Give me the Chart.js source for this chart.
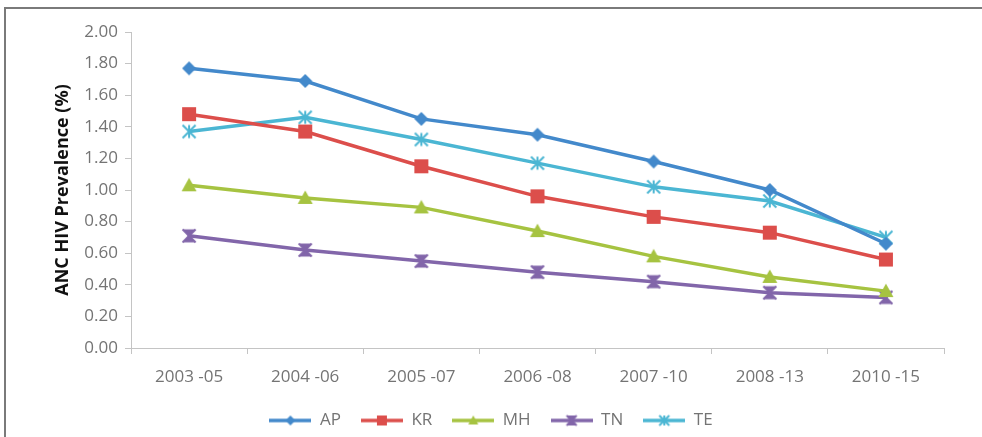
<!DOCTYPE html>
<html>
<head>
<meta charset="utf-8">
<script src="https://cdn.jsdelivr.net/npm/chart.js@4.4.0/dist/chart.umd.min.js"></script>
<style>
    html, body { margin: 0; padding: 0; background: #fff; }
    #wrap { position: relative; width: 982px; height: 437px; overflow: hidden; }
    #frame { position: absolute; left: 4px; top: 7px; width: 1200px; height: 600px;
             border-left: 2px solid #7a7a7a; border-top: 2px solid #7a7a7a; }
    #chart { position: absolute; left: 0; top: 0; }
</style>
</head>
<body>
<div id="wrap">
    <div id="frame"></div>
    <canvas id="chart" width="982" height="437"></canvas>
</div>
<script>
// --- data ---
const categories = ['2003 -05', '2004 -06', '2005 -07', '2006 -08', '2007 -10', '2008 -13', '2010 -15'];
const apValues = [1.77, 1.69, 1.45, 1.35, 1.18, 1.00, 0.66];
const krValues = [1.48, 1.37, 1.15, 0.96, 0.83, 0.73, 0.56];
const mhValues = [1.03, 0.95, 0.89, 0.74, 0.58, 0.45, 0.36];
const tnValues = [0.71, 0.62, 0.55, 0.48, 0.42, 0.35, 0.32];
const teValues = [1.37, 1.46, 1.32, 1.17, 1.02, 0.93, 0.70];
const seriesNames = ['AP', 'KR', 'MH', 'TN', 'TE'];
const yMin = 0, yMax = 2, yStep = 0.2;
const yTitle = 'ANC HIV Prevalence (%)';

const seriesColors = ['#4389cb', '#dc4e4b', '#a6c341', '#8266aa', '#4bb6d3'];
const seriesShapes = ['diamond', 'square', 'triangle', 'hourglass', 'asterisk'];
const textGray = '#747474';
const axisGray = '#c4c4c4';

// small helper that draws an Excel-like marker on any 2d context
function drawMarker(ctx, shape, color, cx, cy, s) {
    ctx.fillStyle = color;
    ctx.strokeStyle = color;
    ctx.beginPath();
    if (shape === 'diamond') {
        ctx.moveTo(cx, cy - s);
        ctx.lineTo(cx + s, cy);
        ctx.lineTo(cx, cy + s);
        ctx.lineTo(cx - s, cy);
        ctx.closePath();
        ctx.fill();
    } else if (shape === 'square') {
        ctx.fillRect(cx - s, cy - s, 2 * s, 2 * s);
    } else if (shape === 'triangle') {
        ctx.moveTo(cx, cy - s);
        ctx.lineTo(cx + s, cy + s * 0.8);
        ctx.lineTo(cx - s, cy + s * 0.8);
        ctx.closePath();
        ctx.fill();
    } else if (shape === 'hourglass') {
        // filled bow-tie standing upright, with bars top and bottom
        ctx.moveTo(cx - s, cy - s);
        ctx.lineTo(cx + s, cy - s);
        ctx.lineTo(cx + s * 0.55, cy - s * 0.55);
        ctx.lineTo(cx + s * 0.25, cy);
        ctx.lineTo(cx + s * 0.55, cy + s * 0.55);
        ctx.lineTo(cx + s, cy + s);
        ctx.lineTo(cx - s, cy + s);
        ctx.lineTo(cx - s * 0.55, cy + s * 0.55);
        ctx.lineTo(cx - s * 0.25, cy);
        ctx.lineTo(cx - s * 0.55, cy - s * 0.55);
        ctx.closePath();
        ctx.fill();
        ctx.lineWidth = 2;
        ctx.beginPath();
        ctx.moveTo(cx - s, cy - s); ctx.lineTo(cx + s, cy + s);
        ctx.moveTo(cx + s, cy - s); ctx.lineTo(cx - s, cy + s);
        ctx.stroke();
    } else if (shape === 'asterisk') {
        ctx.lineWidth = 2;
        ctx.moveTo(cx - s, cy - s); ctx.lineTo(cx + s, cy + s);
        ctx.moveTo(cx + s, cy - s); ctx.lineTo(cx - s, cy + s);
        ctx.moveTo(cx, cy - s); ctx.lineTo(cx, cy + s);
        ctx.stroke();
    }
}

function pointImage(i) {
    const c = document.createElement('canvas');
    c.width = 20; c.height = 20;
    const sizes = [7, 7, 7.5, 6.5, 6.5];
    drawMarker(c.getContext('2d'), seriesShapes[i], seriesColors[i], 10, 10, sizes[i]);
    return c;
}

function legendImage(i) {
    const c = document.createElement('canvas');
    c.width = 42; c.height = 16;
    const ctx = c.getContext('2d');
    ctx.strokeStyle = seriesColors[i];
    ctx.lineWidth = 3.5;
    ctx.beginPath();
    ctx.moveTo(0, 8); ctx.lineTo(42, 8);
    ctx.stroke();
    drawMarker(ctx, seriesShapes[i], seriesColors[i], 21, 8, 5);
    return c;
}

const allValues = [apValues, krValues, mhValues, tnValues, teValues];
const legendImages = seriesNames.map((n, i) => legendImage(i));

const datasets = seriesNames.map((name, i) => ({
    label: name,
    data: allValues[i],
    borderColor: seriesColors[i],
    backgroundColor: seriesColors[i],
    borderWidth: 3.5,
    pointStyle: pointImage(i),
    pointRadius: 7,
    pointHoverRadius: 7,
    tension: 0,
    fill: false
}));

const tickFont = { family: '"Open Sans", sans-serif', size: 17 };

new Chart(document.getElementById('chart').getContext('2d'), {
    type: 'line',
    data: { labels: categories, datasets: datasets },
    options: {
        responsive: false,
        animation: false,
        layout: { padding: { top: 32, right: 0, bottom: -2, left: 0 } },
        scales: {
            x: {
                offset: true,
                grid: { offset: true, drawOnChartArea: false, drawTicks: true, tickLength: 6, color: axisGray },
                border: { color: axisGray, width: 1 },
                ticks: { color: textGray, font: tickFont, padding: 13, maxRotation: 0, autoSkip: false },
                afterFit: s => { s.height = 44; }
            },
            y: {
                min: yMin,
                max: yMax,
                grid: { drawOnChartArea: false, tickLength: 6, color: axisGray },
                border: { color: axisGray, width: 1 },
                ticks: { stepSize: yStep, color: textGray, font: tickFont, padding: 7,
                         callback: v => v.toFixed(2) },
                title: { display: true, text: yTitle, color: '#111',
                         font: { family: '"Open Sans", sans-serif', size: 18, weight: 'bold' },
                         padding: { top: 52, bottom: 0 } },
                afterFit: s => { s.width = 131; }
            },
            // empty right box, only to keep the plot clear of the right edge
            yRight: {
                position: 'right',
                min: yMin,
                max: yMax,
                grid: { display: false },
                border: { display: false },
                ticks: { display: false },
                afterFit: s => { s.width = 38; }
            }
        },
        plugins: {
            legend: {
                position: 'bottom',
                maxHeight: 47,
                labels: {
                    usePointStyle: true,
                    pointStyleWidth: 42,
                    padding: 20,
                    color: textGray,
                    font: tickFont,
                    generateLabels: chart => chart.data.datasets.map((ds, i) => ({
                        text: ds.label,
                        pointStyle: legendImages[i],
                        fillStyle: ds.borderColor,
                        strokeStyle: ds.borderColor,
                        fontColor: textGray,
                        lineWidth: 0,
                        hidden: false,
                        datasetIndex: i
                    }))
                }
            },
            tooltip: { enabled: false }
        }
    }
});
</script>
</body>
</html>
